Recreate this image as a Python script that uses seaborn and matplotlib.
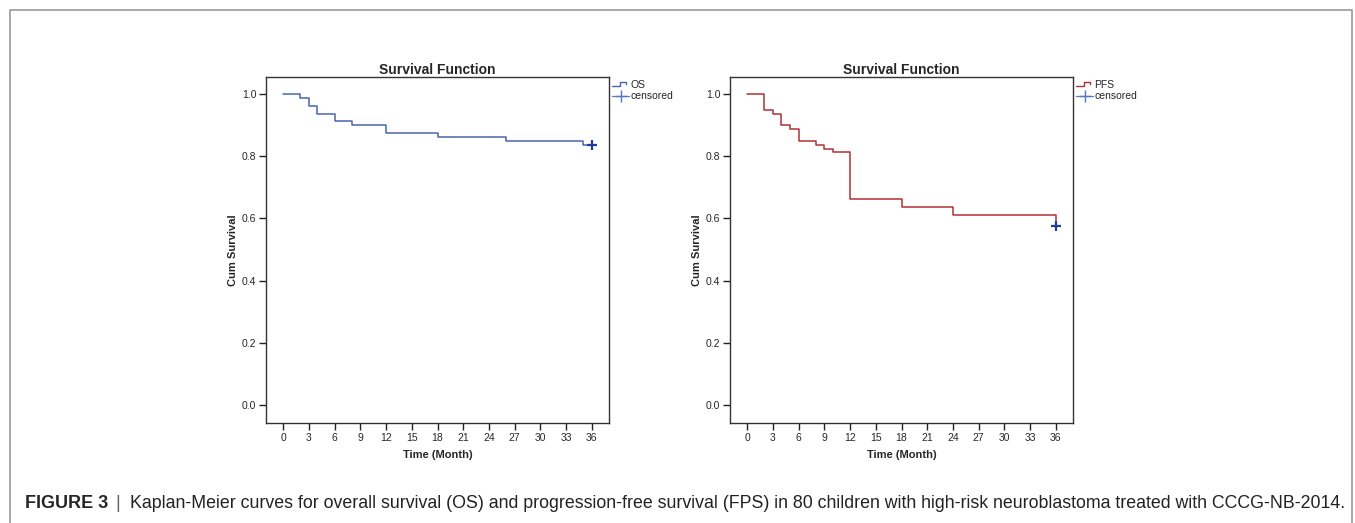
import numpy as np
import pandas as pd
import matplotlib
matplotlib.use('Agg')
import matplotlib.pyplot as plt
from matplotlib.lines import Line2D
from matplotlib.legend_handler import HandlerBase
import seaborn as sns

sns.set_style('white')
plt.rcParams['font.family'] = ['Liberation Sans', 'DejaVu Sans']

# (80 patients)
os_time = [0, 2, 3, 4, 6, 8, 12, 18, 26, 35, 36]
os_surv = [1.0, 0.9875, 0.9625, 0.9375, 0.9125, 0.9, 0.875, 0.8625, 0.85, 0.8375, 0.8375]
pfs_time = [0, 2, 3, 4, 5, 6, 8, 9, 10, 12, 18, 24, 36]
pfs_surv = [1.0, 0.95, 0.9375, 0.9, 0.8875, 0.85, 0.8375, 0.825, 0.8125, 0.6625, 0.6375, 0.6125, 0.575]
censor_time = [36]
os_censor = [0.8375]
pfs_censor = [0.575]

x_ticks = list(range(0, 37, 3))
y_ticks = [0.0, 0.2, 0.4, 0.6, 0.8, 1.0]

caption_bold = 'FIGURE 3'
caption = ('Kaplan-Meier curves for overall survival (OS) and progression-free survival (FPS) '
           'in 80 children with high-risk neuroblastoma treated with CCCG-NB-2014.')

censor_color = '#22389a'


class StepHandler(HandlerBase):
    # little step glyph like the SPSS legend
    def create_artists(self, legend, orig_handle, xdescent, ydescent, width, height, fontsize, trans):
        w = width
        y0 = height * 0.2
        y1 = height * 0.85
        xs = [0, w * 0.45, w * 0.45, w * 0.8, w * 0.8]
        ys = [y0, y0, y1, y1, y0 + (y1 - y0) * 0.55]
        ln = Line2D(xs, ys, color=orig_handle.get_color(), lw=1.0, transform=trans)
        return [ln]


fig = plt.figure(figsize=(13.55, 5.23), dpi=100)
W, H = 1355, 523

# panel outline (open at the bottom)
fig.add_artist(Line2D([10 / W, 10 / W, 1352 / W, 1352 / W], [0, 1 - 10 / H, 1 - 10 / H, 0],
                      transform=fig.transFigure, color='#999999', lw=1.2))

panels = [
    (266, os_time, os_surv, os_censor, '#4a65b0', 'OS'),
    (730, pfs_time, pfs_surv, pfs_censor, '#b03036', 'PFS'),
]

for left, t, s, cen, color, name in panels:
    ax = fig.add_axes([left / W, 1 - 423 / H, 343 / W, 346 / H])
    df = pd.DataFrame({'time': t, 'surv': s})
    sns.lineplot(data=df, x='time', y='surv', ax=ax, color=color, lw=1.1,
                 drawstyle='steps-post', estimator=None, sort=False)
    cdf = pd.DataFrame({'time': censor_time, 'surv': cen})
    sns.scatterplot(data=cdf, x='time', y='surv', ax=ax, marker='+', s=60,
                    color=censor_color, linewidth=1.6, zorder=5)
    ax.set_xlim(-2, 38)
    ax.set_ylim(-0.058, 1.055)
    ax.set_xticks(x_ticks)
    ax.set_yticks(y_ticks)
    ax.set_yticklabels([f'{v:.1f}' for v in y_ticks])
    ax.tick_params(axis='both', which='both', direction='out', length=5, width=1,
                   color='#222222', labelsize=7.5, pad=2, bottom=True, left=True)
    for sp in ax.spines.values():
        sp.set_color('#333333')
        sp.set_linewidth(1.0)
    ax.set_title('Survival Function', fontsize=10, fontweight='bold', pad=2)
    ax.set_xlabel('Time (Month)', fontsize=8, fontweight='bold', labelpad=5)
    ax.set_ylabel('Cum Survival', fontsize=8, fontweight='bold', labelpad=3)

    h1 = Line2D([], [], color=color)
    h2 = Line2D([], [], color='#5b74c4', marker='+', markersize=9, lw=0.9)
    handles = [h1, h2]
    ax.legend(handles, [name, 'censored'], loc='upper left',
              bbox_to_anchor=(0.995, 1.007), frameon=False, fontsize=7.5,
              handlelength=1.6, handletextpad=0.1, labelspacing=0.15,
              borderaxespad=0.1, handler_map={h1: StepHandler()})

fig.text(25 / W, 1 - 503 / H, caption_bold, fontsize=13, fontweight='bold',
         va='center', ha='left')
fig.text(115 / W, 1 - 503 / H, '|', fontsize=13, va='center', ha='left', color='#666666')
fig.text(130 / W, 1 - 503 / H, caption, fontsize=12.8, va='center', ha='left',
         color='#222222')

fig.savefig('out.png', dpi=100)
